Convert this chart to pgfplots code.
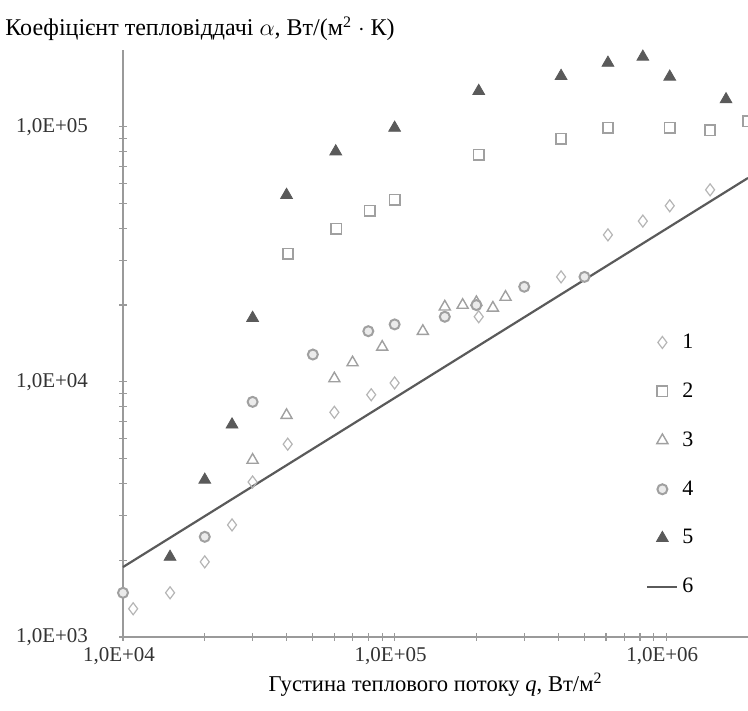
\documentclass[border=0pt]{standalone}
\usepackage{fontspec}
\setmainfont{Liberation Serif}
\usepackage{pgfplots}
\pgfplotsset{compat=1.18}

\definecolor{axgray}{HTML}{9A9A9A}
\definecolor{dgray}{HTML}{5A5A5A}
\definecolor{lgray}{HTML}{B5B5B5}
\definecolor{mgray}{HTML}{A0A0A0}

\begin{document}
\begin{tikzpicture}
\begin{axis}[name=ax,
  width=312.5pt, height=293.5pt, scale only axis,
  xmode=log, ymode=log,
  xmin=1e4, xmax=2e6, ymin=1e3, ymax=2e5,
  axis x line*=bottom, axis y line*=left,
  axis line style={axgray, line width=0.8pt},
  every tick/.style={axgray, line width=0.6pt},
  tick align=center, major tick length=4pt, minor tick length=4pt,
  xtick={1e4,1e5,1e6}, xticklabels={{1,0E+04},{1,0E+05},{1,0E+06}},
  ytick={1e3,1e4,1e5}, yticklabels={{1,0E+03},{1,0E+04},{1,0E+05}},
  minor xtick={2e4,3e4,4e4,5e4,6e4,7e4,8e4,9e4,2e5,3e5,4e5,5e5,6e5,7e5,8e5,9e5},
  minor ytick={2e3,3e3,4e3,5e3,6e3,7e3,8e3,9e3,2e4,3e4,4e4,5e4,6e4,7e4,8e4,9e4},
  tick label style={font=\fontsize{10.5}{12}\selectfont, text=black!80},
  xticklabel style={xshift=-2pt},
  yticklabel style={xshift=-12pt},
  clip=false,
  title={Коефіцієнт тепловіддачі $\alpha$, Вт/(м\textsuperscript{2} $\cdot$ К)},
  title style={at={(0,1)}, anchor=base west, xshift=-59pt, yshift=1pt,
    font=\fontsize{12}{14}\selectfont, inner sep=0pt},
  xlabel={Густина теплового потоку \textit{q}, Вт/м\textsuperscript{2}},
  xlabel style={font=\fontsize{11.3}{13}\selectfont, yshift=3pt},
  legend style={draw=none, fill=none, at={(0.827,0.531)}, anchor=north west,
    row sep=11.7pt, font=\fontsize{11}{12}\selectfont},
  legend cell align=left,
  legend image code/.code={\draw[mark repeat=2,mark phase=2]
    plot coordinates {(0pt,0pt) (7.5pt,0pt) (15pt,0pt)};},
]
% 1
\addplot[only marks, mark=diamond, mark size=3pt, draw=lgray, line width=0.6pt] coordinates {
(1.09e4,1.29e3) (1.49e4,1.49e3) (2.0e4,1.97e3) (2.52e4,2.75e3) (3.0e4,4.05e3)
(4.04e4,5.7e3) (6.0e4,7.6e3) (8.2e4,8.9e3) (1.0e5,9.9e3) (2.04e5,1.8e4)
(4.1e5,2.58e4) (6.1e5,3.77e4) (8.2e5,4.27e4) (1.03e6,4.9e4) (1.45e6,5.66e4)};
% 2
\addplot[only marks, mark=square, mark size=2.6pt, draw=mgray, line width=0.8pt] coordinates {
(4.05e4,3.18e4) (6.1e4,3.98e4) (8.1e4,4.69e4) (1.0e5,5.18e4) (2.04e5,7.76e4)
(4.1e5,8.97e4) (6.1e5,9.9e4) (1.03e6,9.9e4) (1.45e6,9.7e4) (2.0e6,1.05e5)};
% 3
\addplot[only marks, mark=triangle, mark size=3.2pt, draw=mgray, line width=0.7pt] coordinates {
(3.0e4,4.94e3) (4.0e4,7.4e3) (6.0e4,1.03e4) (7.0e4,1.19e4) (9.0e4,1.37e4)
(1.27e5,1.58e4) (1.53e5,1.97e4) (1.78e5,2.0e4) (2.0e5,2.05e4) (2.3e5,1.95e4)
(2.56e5,2.15e4)};
% 4
\addplot[only marks, mark=*, mark size=2.5pt, draw=mgray, fill=black!8, line width=1pt] coordinates {
(1.0e4,1.49e3) (2.0e4,2.47e3) (3.0e4,8.35e3) (5.0e4,1.28e4) (8.0e4,1.58e4)
(1.0e5,1.68e4) (1.53e5,1.8e4) (2.0e5,2.0e4) (3.0e5,2.36e4) (5.0e5,2.58e4)};
% 5
\addplot[only marks, mark=triangle*, mark size=3.4pt, draw=dgray, fill=dgray] coordinates {
(1.49e4,2.06e3) (2.0e4,4.13e3) (2.52e4,6.8e3) (3.0e4,1.78e4) (4.0e4,5.4e4)
(6.07e4,8.0e4) (1.0e5,9.9e4) (2.04e5,1.38e5) (4.1e5,1.58e5) (6.1e5,1.78e5)
(8.2e5,1.88e5) (1.03e6,1.57e5) (1.66e6,1.28e5)};
% 6
\addplot[no marks, draw=dgray, line width=1.1pt] coordinates {
(1e4,1.88e3) (2e6,6.3e4)};
\legend{1,2,3,4,5,6}
\end{axis}
\pgfresetboundingbox
\path[use as bounding box] ([xshift=-61.5pt,yshift=-37pt]ax.south west) rectangle ([yshift=25pt]ax.north east);
\end{tikzpicture}
\end{document}
